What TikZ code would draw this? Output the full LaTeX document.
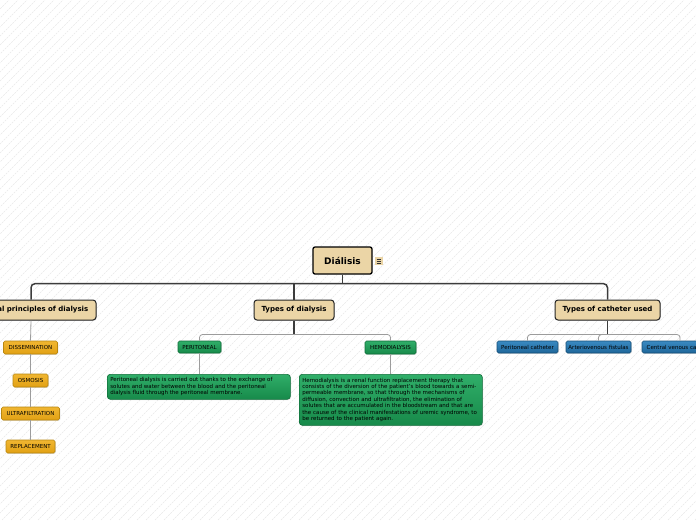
\documentclass[tikz,border=0pt]{standalone}
\usepackage{fontspec}
\setmainfont{DejaVu Sans}
\usetikzlibrary{shadows}
\definecolor{mtan}{HTML}{EBD5A6}
\definecolor{myel1}{HTML}{F0B631}
\definecolor{myel2}{HTML}{E2A114}
\definecolor{myelb}{HTML}{B8860F}
\definecolor{mgrn1}{HTML}{30AE69}
\definecolor{mgrn2}{HTML}{178A4A}
\definecolor{mgrnb}{HTML}{0F6E39}
\definecolor{mblu1}{HTML}{3A8AC2}
\definecolor{mblu2}{HTML}{1E6699}
\definecolor{mblub}{HTML}{164F78}
\definecolor{mline}{HTML}{3C3C3C}
\definecolor{msub}{HTML}{9C9C9C}
\tikzset{
  x=1pt, y=1pt,
  shad/.style={drop shadow={opacity=0.25, shadow xshift=0.8pt, shadow yshift=-0.8pt}},
  rootbox/.style={draw=black, line width=1.3pt, fill=mtan, rounded corners=2pt,
    font=\bfseries\fontsize{9}{10}\selectfont, minimum width=59pt, minimum height=27pt, inner sep=0pt},
  topic/.style={shad, draw=black!85, line width=1pt, fill=mtan, rounded corners=3pt,
    font=\bfseries\fontsize{7}{8}\selectfont, minimum height=20pt, inner sep=0pt},
  leaf/.style={shad, rounded corners=1.5pt, line width=0.6pt, font=\fontsize{5.5}{6}\selectfont,
    minimum height=13pt, inner sep=0pt, text=black},
  yel/.style={leaf, draw=myelb, top color=myel1, bottom color=myel2},
  grn/.style={leaf, draw=mgrnb, top color=mgrn1, bottom color=mgrn2},
  blu/.style={leaf, draw=mblub, top color=mblu1, bottom color=mblu2},
  para/.style={shad, draw=mgrnb, line width=0.6pt, top color=mgrn1, bottom color=mgrn2, rounded corners=3pt,
    align=left, text width=177pt, inner xsep=3pt, inner ysep=3.2pt, anchor=north west,
    font=\fontsize{5.5}{6.4}\selectfont, text=black},
  main/.style={draw=mline, line width=1.5pt},
  sub/.style={draw=msub, line width=0.8pt},
}
\begin{document}
\begin{tikzpicture}
\useasboundingbox (0,0) rectangle (696,-520);
\clip (0,0) rectangle (696,-520);
\fill[white] (0,0) rectangle (696,-520);
\foreach \k in {-520,-511,...,700}
  \draw[black!9, line width=0.5pt, dash pattern=on 2pt off 1pt] (\k,-520) -- ({\k+520},0);

% root
\node[rootbox] (root) at (342.5,-260.5) {Diálisis};
\node[fill=mtan, minimum width=8pt, minimum height=8pt, inner sep=0pt] (note) at (379,-261) {};
\foreach \dy in {-2,0,2}
  \draw[black!80, line width=0.7pt] ([xshift=-2.3pt,yshift=\dy pt]note.center) -- ([xshift=2.3pt,yshift=\dy pt]note.center);

% level 1
\node[topic, minimum width=130pt] (gp) at (31,-310) {General principles of dialysis};
\node[topic, minimum width=80pt] (td) at (294,-310) {Types of dialysis};
\node[topic, minimum width=105pt] (tc) at (607.5,-310) {Types of catheter used};

% level 2 : principles
\node[yel, minimum width=54pt] (dis) at (30.5,-347.5) {DISSEMINATION};
\node[yel, minimum width=35pt] (osm) at (30.5,-380.5) {OSMOSIS};
\node[yel, minimum width=58pt] (ult) at (30.5,-413.5) {ULTRAFILTRATION};
\node[yel, minimum width=49pt] (rep) at (30.5,-446.5) {REPLACEMENT};

% level 2 : dialysis types
\node[grn, minimum width=43pt, minimum height=12pt] (per) at (199.5,-347) {PERITONEAL};
\node[grn, minimum width=51pt] (hem) at (390.5,-347.5) {HEMODIALYSIS};

\node[para, minimum height=25pt] (perp) at (107,-374) {%
\mbox{Peritoneal dialysis is carried out thanks to the exchange of}\\
\mbox{solutes and water between the blood and the peritoneal}\\
\mbox{dialysis fluid through the peritoneal membrane.}};
\node[para, minimum height=51pt] (hemp) at (299,-374) {%
\mbox{Hemodialysis is a renal function replacement therapy that}\\
\mbox{consists of the diversion of the patient's blood towards a semi-}\\
\mbox{permeable membrane, so that through the mechanisms of}\\
\mbox{diffusion, convection and ultrafiltration, the elimination of}\\
\mbox{solutes that are accumulated in the bloodstream and that are}\\
\mbox{the cause of the clinical manifestations of uremic syndrome, to}\\
\mbox{be returned to the patient again.}};

% level 2 : catheters
\node[blu, minimum width=61pt, minimum height=12pt] (pc) at (527.5,-347) {Peritoneal catheter};
\node[blu, minimum width=65pt, minimum height=12pt] (av) at (598.5,-347) {Arteriovenous fistulas};
\node[blu, minimum width=76pt, minimum height=12pt] (cv) at (680,-347) {Central venous catheter};

% connectors
\draw[main] (root.south) -- ++(0,-9) coordinate (rj);
\draw[main, rounded corners=4pt] (gp.north) |- (rj) -| (tc.north);
\draw[main] (rj -| td.north) -- (td.north);

\draw[sub] (gp.south) -- (dis.north);
\draw[sub] (dis.south) -- (osm.north);
\draw[sub] (osm.south) -- (ult.north);
\draw[sub] (ult.south) -- (rep.north);

\draw[main, line width=1.2pt] (td.south) -- ++(0,-14) coordinate (tdj);
\draw[sub, rounded corners=3pt] (per.north) |- (tdj) -| (hem.north);
\draw[sub] (per.south) -- (per.south |- perp.north);
\draw[sub] (hem.south) -- (hem.south |- hemp.north);

\draw[main, line width=1.2pt] (tc.south) -- ++(0,-14) coordinate (tcj);
\draw[sub, rounded corners=3pt] (pc.north) |- (tcj) -| (cv.north);
\draw[sub, rounded corners=3pt] (av.north) |- (tcj);
\end{tikzpicture}
\end{document}
